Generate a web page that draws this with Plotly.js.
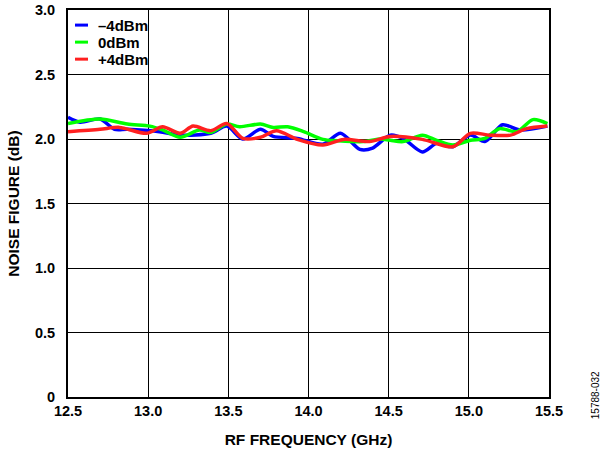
<!DOCTYPE html>
<html>
<head>
<meta charset="utf-8">
<script src="https://cdn.plot.ly/plotly-3.0.1.min.js"></script>
<style>html,body{margin:0;padding:0;background:#fff;}#chart{width:607px;height:452px;}</style>
</head>
<body>
<div id="chart"></div>
<script>
const freqM4 = [12.5, 12.575, 12.70, 12.79, 12.87, 13.07, 13.2, 13.39, 13.49, 13.59, 13.70, 13.78, 13.93, 14.09, 14.2, 14.32, 14.4, 14.51, 14.59, 14.71, 14.80, 14.9, 15.01, 15.1, 15.21, 15.32, 15.49];
const nfM4   = [2.168, 2.13, 2.155, 2.075, 2.075, 2.057, 2.03, 2.044, 2.10, 2.0, 2.075, 2.02, 2.005, 1.96, 2.044, 1.92, 1.93, 2.03, 2.005, 1.90, 1.966, 1.94, 2.03, 1.98, 2.11, 2.07, 2.10];

const freq0 = [12.5, 12.70, 12.87, 13.01, 13.09, 13.2, 13.32, 13.39, 13.49, 13.57, 13.70, 13.78, 13.87, 13.97, 14.09, 14.18, 14.34, 14.45, 14.51, 14.59, 14.71, 14.80, 14.9, 15.01, 15.1, 15.19, 15.3, 15.4, 15.49];
const nf0   = [2.12, 2.155, 2.116, 2.10, 2.07, 2.013, 2.07, 2.05, 2.116, 2.095, 2.116, 2.09, 2.095, 2.057, 1.997, 1.987, 1.98, 2.0, 1.99, 1.98, 2.03, 1.99, 1.953, 1.99, 2.005, 2.08, 2.057, 2.15, 2.12];

const freqP4 = [12.5, 12.7, 12.82, 12.99, 13.09, 13.2, 13.28, 13.39, 13.49, 13.59, 13.70, 13.80, 13.93, 14.09, 14.22, 14.38, 14.51, 14.71, 14.9, 15.01, 15.13, 15.26, 15.36, 15.49];
const nfP4   = [2.057, 2.075, 2.09, 2.044, 2.095, 2.044, 2.10, 2.064, 2.12, 2.005, 2.013, 2.064, 1.997, 1.953, 1.997, 1.98, 2.02, 1.997, 1.94, 2.044, 2.03, 2.03, 2.08, 2.10];

const seriesNames = ['\u20134dBm', '0dBm', '+4dBm'];
const seriesColors = ['#0000ff', '#00ff00', '#ff2020'];
const yTickVals = [0, 0.5, 1.0, 1.5, 2.0, 2.5, 3.0];
const yTickText = ['0', '0.5', '1.0', '1.5', '2.0', '2.5', '3.0'];
const xTickVals = [12.5, 13.0, 13.5, 14.0, 14.5, 15.0, 15.5];
const xTickText = ['12.5', '13.0', '13.5', '14.0', '14.5', '15.0', '15.5'];

const xs = [freqM4, freq0, freqP4];
const ys = [nfM4, nf0, nfP4];
const traces = xs.map((x, i) => ({
  x: x, y: ys[i], name: seriesNames[i], type: 'scatter', mode: 'lines',
  line: {color: seriesColors[i], width: 3.5, shape: 'spline', smoothing: 0.8}
}));

const fam = 'Liberation Sans, Arial, sans-serif';
const tickFont = {family: fam, size: 14.5, color: '#000', weight: 'bold'};
const titleFont = {family: fam, size: 15.5, color: '#000', weight: 'bold'};
const legendFont = {family: fam, size: 15, color: '#000', weight: 'bold'};

// manual legend (short line symbols)
const legendY = [0.961, 0.917, 0.873];
const shapes = seriesNames.map((n, i) => ({
  type: 'line', xref: 'paper', yref: 'paper', x0: 0.0146, x1: 0.0416, y0: legendY[i], y1: legendY[i],
  line: {color: seriesColors[i], width: 3}
}));
const annotations = seriesNames.map((n, i) => ({
  text: n, xref: 'paper', yref: 'paper', x: 0.058, y: legendY[i], xanchor: 'left', yanchor: 'middle',
  showarrow: false, font: legendFont
}));
annotations.push({text: '15788-032', xref: 'paper', yref: 'paper', x: 1.096, y: 0.005,
  xanchor: 'center', yanchor: 'middle', textangle: -90, showarrow: false,
  font: {family: fam, size: 10, color: '#000'}});

const layout = {
  width: 607, height: 452,
  margin: {l: 68, r: 58, t: 10, b: 55},
  paper_bgcolor: '#fff', plot_bgcolor: '#fff',
  showlegend: false,
  shapes: shapes,
  annotations: annotations,
  xaxis: {range: [12.5, 15.5], tickvals: xTickVals, ticktext: xTickText,
          showgrid: true, gridcolor: '#000', gridwidth: 1, zeroline: false,
          showline: true, linecolor: '#000', linewidth: 2, mirror: true,
          ticks: '', tickfont: tickFont,
          title: {text: 'RF FREQUENCY (GHz)', font: titleFont, standoff: 16}},
  yaxis: {range: [0, 3.0], tickvals: yTickVals, ticktext: yTickText,
          showgrid: true, gridcolor: '#000', gridwidth: 1, zeroline: false,
          showline: true, linecolor: '#000', linewidth: 2, mirror: true,
          ticks: '', tickfont: tickFont, ticklabelstandoff: 8,
          title: {text: 'NOISE FIGURE (dB)', font: titleFont, standoff: 12}}
};
Plotly.newPlot('chart', traces, layout, {displayModeBar: false, staticPlot: true});
</script>
</body>
</html>
